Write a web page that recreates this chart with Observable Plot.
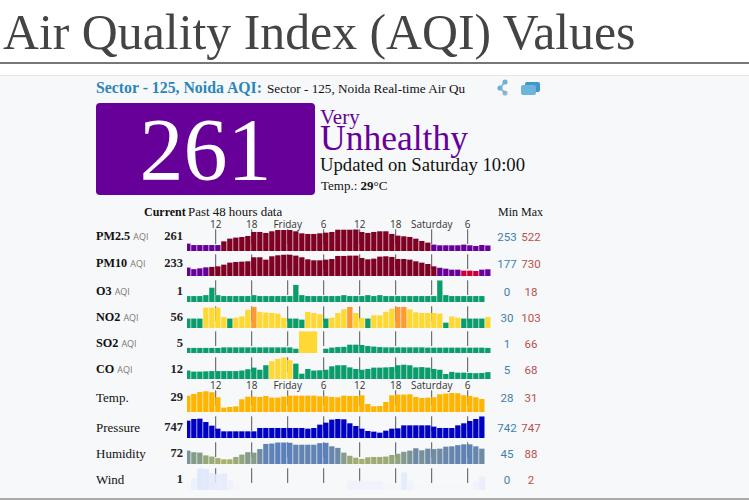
<!DOCTYPE html>
<html><head><meta charset="utf-8">
<script src="https://cdn.jsdelivr.net/npm/d3@7"></script>
<script src="https://cdn.jsdelivr.net/npm/@observablehq/plot@0.6"></script>
<style>
html,body{margin:0;padding:0;background:#fff;overflow:hidden}
#page{position:relative;width:749px;height:500px;overflow:hidden;font-family:"Liberation Serif",serif}
#page>*{position:absolute}
.t{white-space:nowrap;line-height:1}
h1{margin:0;left:3px;top:6px;font:400 49.8px/1.1 "Liberation Serif",serif;color:#444;white-space:nowrap}
#hr{left:0;right:0;top:62px;height:2px;background:#777}
#panel{left:0;right:0;top:75px;bottom:2px;background:#f7f8f9;border-top:1px solid #e6e6e6}
#foot{left:0;right:0;bottom:0;height:2px;background:#aaa}
#box{left:96px;top:103px;width:219px;height:92px;background:#660099;border-radius:4px;color:#fff;text-align:center;font:88px/94px "Liberation Serif",serif}
svg{background:transparent;overflow:visible}
</style></head><body><div id="page">
<h1>Air Quality Index (AQI) Values</h1>
<div id="hr"></div><div id="panel"></div><div id="foot"></div>
<div class="t" style="left:96px;top:80px;font-weight:700;font-size:15.8px;color:#2a86b8">Sector - 125, Noida AQI:</div>
<div class="t" style="left:267px;top:82px;font-size:13.2px;color:#111">Sector - 125, Noida Real-time Air Qu</div>
<svg style="left:495px;top:79px" width="46" height="18">
<circle cx="10" cy="3" r="2.6" fill="#6fb0d6"/><circle cx="5" cy="9" r="2.6" fill="#6fb0d6"/><circle cx="10" cy="14" r="2.6" fill="#9ab8cc"/>
<path d="M10 3L5 9L10 14" fill="none" stroke="#6fb0d6" stroke-width="1.5"/>
<rect x="30" y="3" width="15" height="10" rx="2" fill="#3f97cc"/><rect x="26" y="6" width="15" height="10" rx="2" fill="#6db3dc"/></svg>
<div id="box">261</div>
<div class="t" style="left:320px;top:109px;font-size:21px;line-height:.85;color:#660099">Very</div>
<div class="t" style="left:320px;top:124px;font-size:35.5px;line-height:.8;color:#660099">Unhealthy</div>
<div class="t" style="left:320px;top:156px;font-size:18.7px;color:#111">Updated on Saturday 10:00</div>
<div class="t" style="left:321px;top:179px;font-size:13px;color:#111">Temp.: <b>29</b>°C</div>
<div class="t" style="left:144px;top:206px;font-size:12px;font-weight:700;color:#111">Current</div>
<div class="t" style="left:188px;top:206px;font-size:12.9px;color:#111">Past 48 hours data</div>
<div class="t" style="left:498px;top:206px;font-size:12px;color:#111">Min</div>
<div class="t" style="left:521px;top:206px;font-size:12px;color:#111">Max</div>
</div>
<script>
const names = ["PM2.5","PM10","O3","NO2","SO2","CO","Temp.","Pressure","Humidity","Wind"];
const current = [261,233,1,56,5,12,29,747,72,1];
const mins = [253,177,0,30,1,5,28,742,45,0];
const maxs = [522,730,18,103,66,68,31,747,88,2];
const tickHours = [12,18,24,30,36,42,48,54];
const tickLabels = ["12","18","Friday","6","12","18","Saturday","6"];
const firstHour = 7;

const pm25 = [291,268,268,268,268,268,328,371,388,398,414,479,479,463,490,511,511,511,490,457,447,447,457,468,479,517,517,517,522,479,463,479,490,490,447,420,409,398,371,334,307,275,264,264,264,264,275,264,253,269,261];
const pm10 = [290,238,265,298,312,331,387,453,476,487,498,631,631,553,664,697,719,719,686,631,564,531,531,553,575,675,675,686,686,608,564,586,653,664,642,575,575,553,498,453,409,331,284,254,221,221,188,188,177,221,233];
const o3 = [1,1,1,2,10,2,1,1,1,1,1,2,1,1,1,1,1,1,13,2,1,1,1,1,1,1,2,1,1,1,2,1,2,1,1,1,1,1,1,1,1,1,18,2,1,1,1,1,1,1];
const no2 = [49,49,49,100,100,100,56,49,53,59,90,103,80,77,75,72,52,49,49,44,80,75,69,49,53,75,92,103,75,52,49,64,64,80,95,103,103,92,78,75,75,75,72,30,59,53,49,49,49,49,56];
const so2 = [5,5,5,5,5,5,7,7,7,7,7,7,7,7,7,7,7,7,2,66,66,66,null,2,6,8,9,17,17,16,12,10,8,7,7,7,7,7,7,7,6,6,6,6,6,6,6,6,6,6,5];
const co = [18,14,14,15,16,16,16,16,16,18,23,29,21,38,53,62,68,57,44,6,24,18,19,21,34,38,38,30,24,21,24,29,29,30,31,38,40,38,30,31,29,24,21,5,13,10,10,9,8,9,12];
const temp = [30.2,30.51,30.88,31,30.82,29.9,28,28.12,28.24,29.53,30.02,30.02,29.96,30.14,29.84,29.84,30.02,30.2,30.2,30.2,30.2,30.2,30.08,30.08,29.96,29.9,30.2,30.14,30.14,30.26,28.67,28.24,28.31,29.04,30.26,30.39,30.39,30.45,29.96,29.77,29.84,29.9,30.45,30.57,30.69,30.63,30.26,30.14,29.9,29.59];
const pressure = [745.67,746.18,746.28,745.26,744.14,743.22,742.41,742.41,742.41,742.41,742.41,742.41,743.43,743.43,743.43,743.43,743.43,743.43,743.43,743.43,743.22,743.43,744.45,745.06,745.98,746.18,746.08,744.86,744.04,743.22,742.51,742.31,742,742.61,743.22,743.32,744.24,744.24,744.24,744.24,744.24,743.84,743.43,743.43,743.43,744.24,744.86,745.57,746.18,747];
const humidity = [67,63,62,55,52,48,45,45,51,57,63,62,71,84,85,88,88,87,82,82,82,82,86,87,78,74,62,54,49,46,50,51,51,52,56,59,64,67,73,68,72,71,72,77,78,81,83,83,78,72];
const wind = [0.2,0.8,2,1.9,1.4,1.3,1.4,0.6,0.2,0,0,0,0,0,0,0,0,0,0,0,0,0,0,0,0,0,0,0.5,0.5,0.5,0.5,0.5,0.5,0.2,0.2,0.2,1.5,0.5,0.1,0.1,0.1,0.1,0.1,0.1,0.1,0.1,0.1,0.1,0.5,1];
const series = [pm25,pm10,o3,no2,so2,co,temp,pressure,humidity,wind];

// Layout and style: where each row sits, how its y scale is framed, how it is coloured
const rowBase = [251,276,302,328,353,379,412,438,464,490];
const labelMid = [236,263,291,317,343,369,397,427,453,479];
const gaps = [0.7,0.7,0.7,0.7,0.7,0.7,0.7,0.7,0.7,0];
const yFrames = [[172,522],[11,730],[-5.4,18],[5.2,106],[-14,67],[-13.9,68],[27.2,31.18],[740.37,747],[33.1,88.15],[-0.6,2]];
const aqiColor = {type:"threshold",domain:[50.5,100.5,150.5,200.5,300.5],range:["#0b9c6c","#ffd833","#ff9933","#cc0033","#660099","#7e0023"]};
const colorScales = [aqiColor,aqiColor,aqiColor,aqiColor,aqiColor,aqiColor,
  {type:"threshold",domain:[100],range:["#ffb400","#ffb400"]},
  {type:"threshold",domain:[1000],range:["#0000c4","#0000c4"]},
  {type:"linear",domain:[45,58,72,88],range:["#a8b06a","#92a47e","#6e8aa4","#5b80bb"]},
  {type:"linear",domain:[0,0.5,2],range:["#f7f8f9","#f0f3fb","#e0e8fb"]}];
const hasAqi = [1,1,1,1,1,1,0,0,0,0];
const showTicks = [1,0,0,0,0,0,1,0,0,0];

const page = document.getElementById("page");
function text(str,left,top,css){const d=document.createElement("div");d.className="t";d.style.cssText=`left:${left}px;top:${top}px;${css}`;d.innerHTML=str;page.appendChild(d);}

const plotW = 304, plotH = 36, barH = 21.7;
names.forEach((name,r)=>{
  const rows = series[r].map((v,i)=>({hour:firstHour+i,v})).filter(d=>d.v!=null);
  const marks = [
    Plot.ruleX(tickHours,{stroke:"#555",strokeWidth:1,insetBottom:7}),
    Plot.rect(rows,{x1:"hour",x2:d=>d.hour+1,y1:()=>yFrames[r][0],y2:"v",fill:"v",insetRight:gaps[r],clip:true})
  ];
  if(r===4) marks.push(Plot.rect(rows.filter(d=>d.v>50),{x1:"hour",x2:d=>d.hour+1,y1:()=>yFrames[r][0],y2:"v",fill:"v"}));
  if(showTicks[r]) marks.push(Plot.axisX(tickHours,{anchor:"top",tickSize:0,tickPadding:2,label:null,tickFormat:h=>tickLabels[tickHours.indexOf(h)],fontSize:10,fontFamily:"Open Sans",fill:"#333"}));
  const svg = Plot.plot({width:plotW,height:plotH,marginLeft:0,marginRight:0,marginBottom:0,marginTop:plotH-barH,
    x:{domain:[7.3,57.97],axis:null},y:{domain:yFrames[r],axis:null},color:colorScales[r],style:{background:"transparent",overflow:"visible"},marks});
  svg.style.left="187px";svg.style.top=(rowBase[r]-plotH)+"px";
  page.appendChild(svg);
  const y = labelMid[r]-6;
  const isBold = r<6;
  text(name+(hasAqi[r]?` <span style="font:400 9px 'Open Sans';color:#777">AQI</span>`:""),96,y,`font-size:${isBold?12.2:13}px;color:#111;${isBold?"font-weight:700":""}`);
  const cur=document.createElement("div");cur.className="t";cur.style.cssText=`right:${749-183}px;top:${y}px;font-size:12.5px;font-weight:700;color:#222`;cur.textContent=current[r];page.appendChild(cur);
  text(mins[r],497,y,"width:20px;text-align:center;font:11.5px Roboto;color:#3d80b0");
  text(maxs[r],521,y,"width:20px;text-align:center;font:11.5px Roboto;color:#b85050");
});
</script></body></html>
